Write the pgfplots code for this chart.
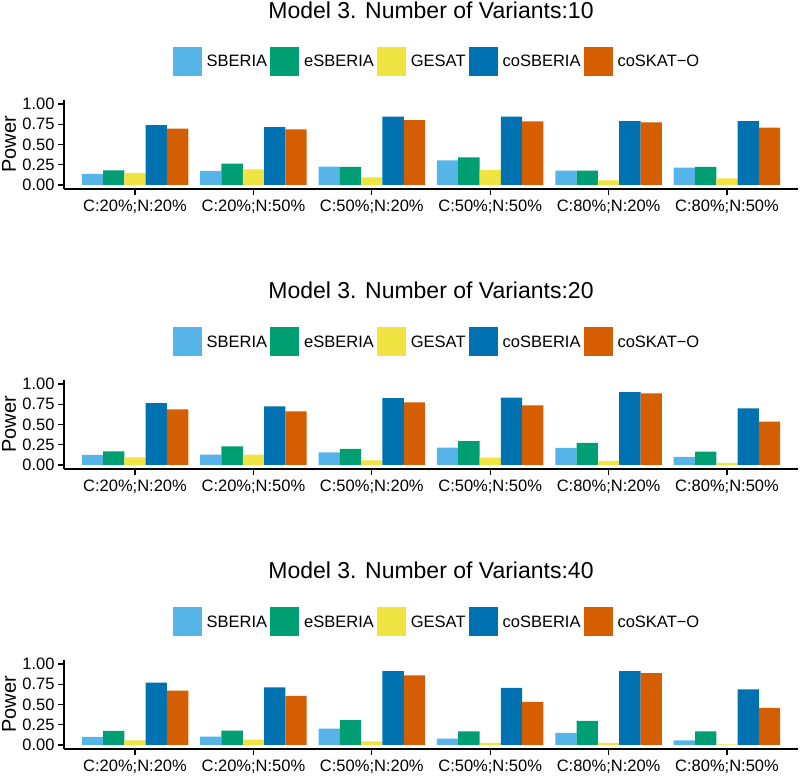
\documentclass[border=0pt]{standalone}
\usepackage{fontspec}
\setmainfont{Liberation Sans}
\usepackage{pgfplots}
\pgfplotsset{compat=1.18}

\definecolor{cSB}{HTML}{56B4E9}
\definecolor{cESB}{HTML}{009E73}
\definecolor{cGE}{HTML}{F0E442}
\definecolor{cCO}{HTML}{0072B2}
\definecolor{cSK}{HTML}{D55E00}

\pgfplotsset{
  panel/.style={
    anchor=south west,
    scale only axis,
    width=734pt, height=89pt,
    ybar=0pt, bar width=21.3pt,
    xmin=0.4, xmax=6.6, ymin=-0.05, ymax=1.05,
    axis x line=bottom, axis y line=left,
    axis line style={-, line width=1.2pt},
    tick style={line width=1.2pt, black},
    tick align=outside, major tick length=6pt,
    xtick={1,...,6},
    xticklabels={C:20\%;N:20\%,C:20\%;N:50\%,C:50\%;N:20\%,C:50\%;N:50\%,C:80\%;N:20\%,C:80\%;N:50\%},
    ytick={0,0.25,0.5,0.75,1},
    yticklabel style={/pgf/number format/.cd, fixed, fixed zerofill, precision=2, assume math mode=true},
    ticklabel style={font=\fontsize{16.5}{18}\selectfont},
    xticklabel style={yshift=-1pt},
    ylabel={Power},
    ylabel style={font=\fontsize{20}{22}\selectfont, at={(axis description cs:-0.0749,0.5)}, anchor=center},
    title style={font=\fontsize{23}{26}\selectfont, at={(axis description cs:0.5,1.921)}, anchor=base, yshift=-6.5pt},
    legend columns=5,
    legend style={draw=none, fill=none, at={(axis description cs:0.5068,1.427)}, anchor=center,
      font=\fontsize{16.5}{18}\selectfont,
      nodes={inner sep=0pt, anchor=west},
      /tikz/every odd column/.style={column sep=5pt},
      /tikz/every even column/.style={column sep=3pt}},
    every axis plot post/.append style={draw=none,
      legend image code/.code={\fill[##1] (0pt,-14.5pt) rectangle (29pt,14.5pt);}},
  }
}

\begin{document}
\begin{tikzpicture}
\path (0,0) rectangle (800pt,776pt);

\begin{axis}[panel, at={(64pt,587pt)}, title={Model 3. Number of Variants:10}]
\addplot[fill=cSB] coordinates {(1,0.136) (2,0.173) (3,0.226) (4,0.305) (5,0.177) (6,0.214)};
\addplot[fill=cESB] coordinates {(1,0.180) (2,0.263) (3,0.222) (4,0.342) (5,0.177) (6,0.222)};
\addplot[fill=cGE] coordinates {(1,0.148) (2,0.193) (3,0.095) (4,0.185) (5,0.058) (6,0.082)};
\addplot[fill=cCO] coordinates {(1,0.740) (2,0.716) (3,0.844) (4,0.844) (5,0.790) (6,0.790)};
\addplot[fill=cSK] coordinates {(1,0.695) (2,0.687) (3,0.800) (4,0.786) (5,0.774) (6,0.708)};
\legend{SBERIA,eSBERIA,GESAT,coSBERIA,coSKAT−O}
\end{axis}

\begin{axis}[panel, at={(64pt,307pt)}, title={Model 3. Number of Variants:20}]
\addplot[fill=cSB] coordinates {(1,0.123) (2,0.128) (3,0.156) (4,0.214) (5,0.210) (6,0.099)};
\addplot[fill=cESB] coordinates {(1,0.169) (2,0.230) (3,0.200) (4,0.296) (5,0.272) (6,0.165)};
\addplot[fill=cGE] coordinates {(1,0.095) (2,0.128) (3,0.058) (4,0.090) (5,0.050) (6,0.025)};
\addplot[fill=cCO] coordinates {(1,0.765) (2,0.724) (3,0.827) (4,0.831) (5,0.900) (6,0.700)};
\addplot[fill=cSK] coordinates {(1,0.687) (2,0.663) (3,0.774) (4,0.737) (5,0.885) (6,0.535)};
\legend{SBERIA,eSBERIA,GESAT,coSBERIA,coSKAT−O}
\end{axis}

\begin{axis}[panel, at={(64pt,27pt)}, title={Model 3. Number of Variants:40}]
\addplot[fill=cSB] coordinates {(1,0.099) (2,0.103) (3,0.202) (4,0.079) (5,0.149) (6,0.058)};
\addplot[fill=cESB] coordinates {(1,0.174) (2,0.178) (3,0.306) (4,0.169) (5,0.298) (6,0.169)};
\addplot[fill=cGE] coordinates {(1,0.058) (2,0.066) (3,0.045) (4,0.025) (5,0.025) (6,0.008)};
\addplot[fill=cCO] coordinates {(1,0.769) (2,0.711) (3,0.913) (4,0.707) (5,0.913) (6,0.686)};
\addplot[fill=cSK] coordinates {(1,0.670) (2,0.607) (3,0.860) (4,0.533) (5,0.888) (6,0.459)};
\legend{SBERIA,eSBERIA,GESAT,coSBERIA,coSKAT−O}
\end{axis}

\pgfresetboundingbox
\path[use as bounding box] (0,0) rectangle (800pt,776pt);
\end{tikzpicture}
\end{document}
